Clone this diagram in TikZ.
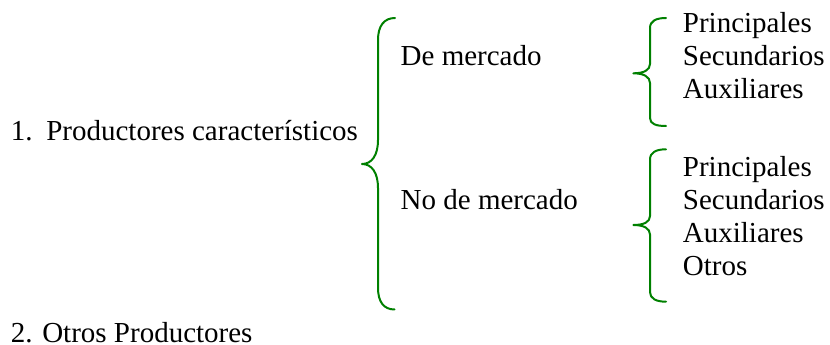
\documentclass[tikz,border=0pt]{standalone}
\usepackage{fontspec}
\setmainfont{Liberation Serif}
\definecolor{bracegreen}{RGB}{0,128,0}
\begin{document}
\begin{tikzpicture}[x=1pt,y=-1pt,
  lbl/.style={anchor=base west,inner sep=0pt,font=\fontsize{29}{33}\selectfont},
  brace/.style={draw=bracegreen,line width=2pt,line cap=round,line join=round}]
\useasboundingbox (0,0) rectangle (830,345);
% left items
\node[lbl] (p1) at (10.7,140.5) {1.\hspace{4pt} Productores característicos};
\node[lbl] (p2) at (10.7,342) {2. Otros Productores};
% middle items
\node[lbl] (dm) at (400.5,65.7) {De mercado};
\node[lbl] (ndm) at (400.5,209) {No de mercado};
% right items, upper
\node[lbl] (a1) at (682.7,32.7) {Principales};
\node[lbl] (a2) at (682.7,65.7) {Secundarios};
\node[lbl] (a3) at (682.7,98.7) {Auxiliares};
% right items, lower
\node[lbl] (b1) at (682.7,176) {Principales};
\node[lbl] (b2) at (682.7,209) {Secundarios};
\node[lbl] (b3) at (682.7,242) {Auxiliares};
\node[lbl] (b4) at (682.7,275) {Otros};
% big brace
\draw[brace] (395,18) .. controls (384,18) and (378,26) .. (378,40)
  -- (378,140) .. controls (378,155) and (372,164) .. (362,164)
  .. controls (372,164) and (378,173) .. (378,188)
  -- (378,288) .. controls (378,302) and (384,309.5) .. (394.5,309.5);
% upper small brace
\draw[brace] (666,18) .. controls (656,18) and (650,21) .. (650,28)
  -- (650,64) .. controls (650,70) and (644,73.3) .. (633.3,73.3)
  .. controls (644,73.3) and (650,77) .. (650,83)
  -- (650,118) .. controls (650,124) and (656,126) .. (666,126);
% lower small brace
\draw[brace] (666,149.3) .. controls (656,149.3) and (650,152.5) .. (650,159.5)
  -- (650,216) .. controls (650,222) and (644,225) .. (633.3,225)
  .. controls (644,225) and (650,228.5) .. (650,234.5)
  -- (650,292) .. controls (650,298.5) and (656,301.7) .. (666,301.7);
\end{tikzpicture}
\end{document}
